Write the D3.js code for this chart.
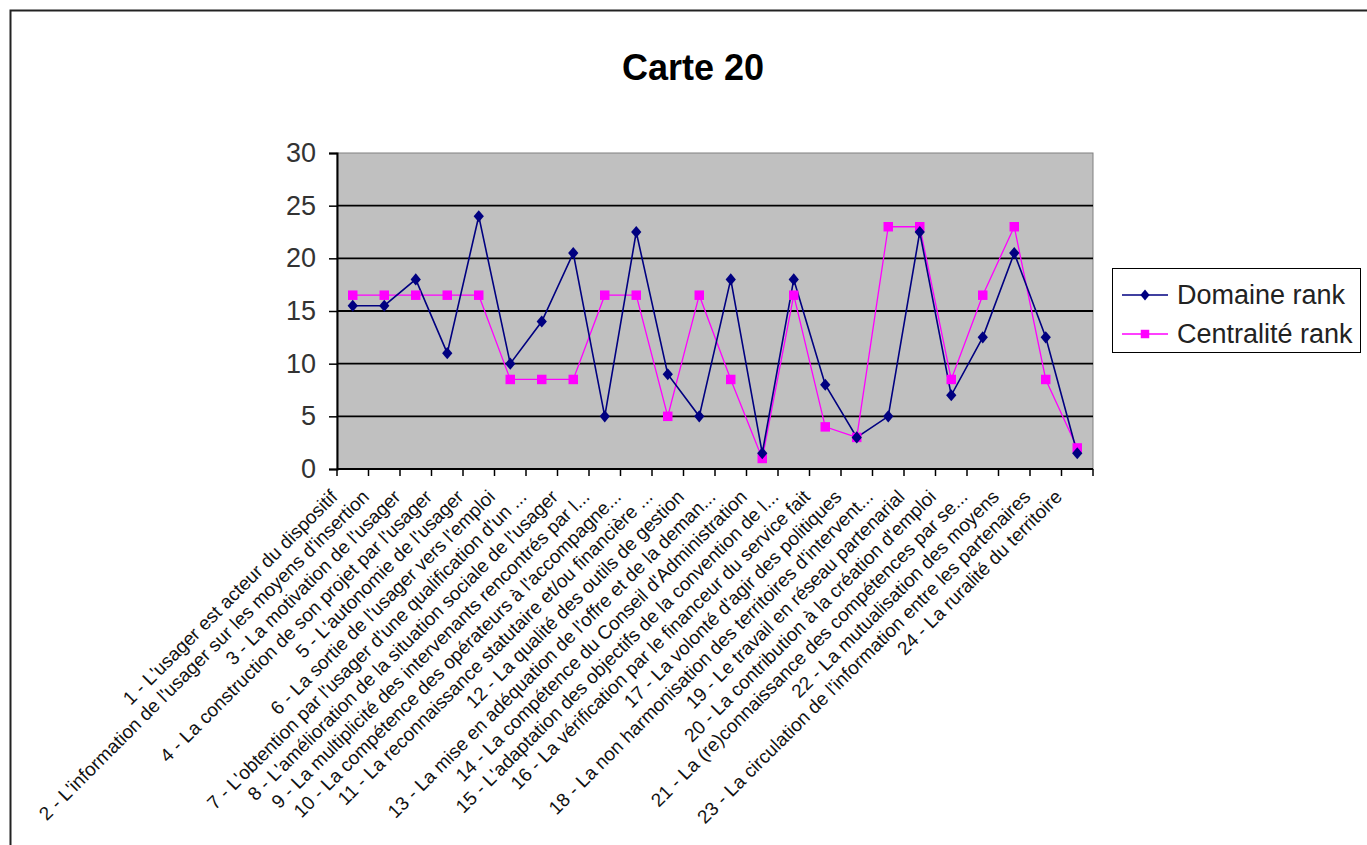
<!DOCTYPE html>
<html>
<head>
<meta charset="utf-8">
<script src="https://cdn.jsdelivr.net/npm/d3@7"></script>
<style>
  html, body { margin: 0; padding: 0; background: #ffffff; }
  svg { display: block; }
  text { font-family: "Liberation Sans", Arial, sans-serif; }
</style>
</head>
<body>
<svg id="chart" width="1367" height="845"></svg>
<script>
const title = "Carte 20";
const categories = [
  "1 - L'usager est acteur du dispositif",
  "2 - L'information de l'usager sur les moyens d'insertion",
  "3 - La motivation de l'usager",
  "4 - La construction de son projet par l'usager",
  "5 - L'autonomie de l'usager",
  "6 - La sortie de l'usager vers l'emploi",
  "7 - L'obtention par l'usager d'une qualification d'un ...",
  "8 - L'amélioration de la situation sociale de l'usager",
  "9 - La multiplicité des intervenants rencontrés par l...",
  "10 - La compétence des opérateurs à l'accompagne...",
  "11 - La reconnaissance statutaire et/ou financière ...",
  "12 - La qualité des outils de gestion",
  "13 - La mise en adéquation de l'offre et de la deman...",
  "14 - La compétence du Conseil d'Administration",
  "15 - L'adaptation des objectifs de la convention de l...",
  "16 - La vérification par le financeur du service fait",
  "17 - La volonté d'agir des politiques",
  "18 - La non harmonisation des territoires d'intervent...",
  "19 - Le travail en réseau partenarial",
  "20 - La contribution à la création d'emploi",
  "21 - La (re)connaissance des compétences par se...",
  "22 - La mutualisation des moyens",
  "23 - La circulation de l'information entre les partenaires",
  "24 - La ruralité du territoire"
];
const seriesNames = ["Domaine rank", "Centralité rank"];
const domaineRank = [15.5, 15.5, 18, 11, 24, 10, 14, 20.5, 5, 22.5, 9, 5, 18, 1.5, 18, 8, 3, 5, 22.5, 7, 12.5, 20.5, 12.5, 1.5];
const centraliteRank = [16.5, 16.5, 16.5, 16.5, 16.5, 8.5, 8.5, 8.5, 16.5, 16.5, 5, 16.5, 8.5, 1, 16.5, 4, 3, 23, 23, 8.5, 16.5, 23, 8.5, 2];
const yTicks = [0, 5, 10, 15, 20, 25, 30];

const svg = d3.select("#chart");

// outer chart frame
svg.append("rect")
  .attr("x", 10.5).attr("y", 10.5)
  .attr("width", 1400).attr("height", 900)
  .attr("fill", "#ffffff").attr("stroke", "#222").attr("stroke-width", 2);

// title
svg.append("text")
  .attr("x", 693).attr("y", 80)
  .attr("text-anchor", "middle")
  .attr("font-size", 36).attr("font-weight", "bold")
  .text(title);

const plot = { left: 337, right: 1093, top: 153, bottom: 469 };

const x = d3.scaleBand()
  .domain(categories)
  .range([plot.left, plot.right])
  .paddingInner(0).paddingOuter(0);

const y = d3.scaleLinear()
  .domain([0, 30])
  .range([plot.bottom, plot.top]);

const cx = d => x(d) + x.bandwidth() / 2;

// plot area
svg.append("rect")
  .attr("x", plot.left).attr("y", plot.top)
  .attr("width", plot.right - plot.left).attr("height", plot.bottom - plot.top)
  .attr("fill", "#c0c0c0").attr("stroke", "#808080").attr("stroke-width", 1);

// gridlines
svg.append("g")
  .selectAll("line")
  .data(yTicks.filter(t => t > 0 && t < 30))
  .join("line")
  .attr("x1", plot.left).attr("x2", plot.right)
  .attr("y1", d => y(d)).attr("y2", d => y(d))
  .attr("stroke", "#000").attr("stroke-width", 1.8);

// y axis
const yAxis = d3.axisLeft(y).tickValues(yTicks).tickSize(8).tickPadding(13);
const gy = svg.append("g")
  .attr("transform", `translate(${plot.left},0)`)
  .call(yAxis);
gy.select(".domain").attr("stroke", "#000").attr("stroke-width", 2);
gy.selectAll(".tick line").attr("stroke", "#000").attr("stroke-width", 1.5);
gy.selectAll(".tick text")
  .attr("font-size", 27)
  .attr("fill", "#333")
  .attr("font-family", "'Liberation Sans', Arial, sans-serif");

// x axis line
svg.append("line")
  .attr("x1", plot.left).attr("x2", plot.right)
  .attr("y1", plot.bottom).attr("y2", plot.bottom)
  .attr("stroke", "#000").attr("stroke-width", 2);

// x ticks at category boundaries
const boundaries = categories.map(c => x(c)).concat([x.range()[1]]);
svg.append("g")
  .selectAll("line")
  .data(boundaries)
  .join("line")
  .attr("x1", d => d).attr("x2", d => d)
  .attr("y1", plot.bottom).attr("y2", plot.bottom + 7)
  .attr("stroke", "#000").attr("stroke-width", 1.5);

// x labels rotated
svg.append("g")
  .selectAll("text")
  .data(categories)
  .join("text")
  .attr("transform", d => `translate(${cx(d) - 14},${plot.bottom + 29}) rotate(-45)`)
  .attr("text-anchor", "end")
  .attr("font-size", 19)
  .attr("fill", "#111")
  .text(d => d);

// marker types
const diamondType = {
  draw(ctx, size) {
    const h = Math.sqrt(size) * 0.62, w = h * 0.85;
    ctx.moveTo(0, -h); ctx.lineTo(w, 0); ctx.lineTo(0, h); ctx.lineTo(-w, 0); ctx.closePath();
  }
};

const series = [
  { name: seriesNames[0], values: domaineRank, color: "#000080", width: 1.6, symbol: diamondType, size: 95 },
  { name: seriesNames[1], values: centraliteRank, color: "#ff00ff", width: 1.3, symbol: d3.symbolSquare, size: 90 }
];

const line = d3.line()
  .x((d, i) => cx(categories[i]))
  .y(d => y(d));

[series[1], series[0]].forEach(s => {
  svg.append("path")
    .datum(s.values)
    .attr("fill", "none")
    .attr("stroke", s.color)
    .attr("stroke-width", s.width)
    .attr("d", line);
});
[series[1], series[0]].forEach(s => {
  svg.append("g")
    .selectAll("path")
    .data(s.values)
    .join("path")
    .attr("transform", (d, i) => `translate(${cx(categories[i])},${y(d)})`)
    .attr("d", d3.symbol().type(s.symbol).size(s.size))
    .attr("fill", s.color);
});

// legend
const legend = svg.append("g").attr("transform", "translate(1112,268)");
legend.append("rect")
  .attr("x", 0.5).attr("y", 0.5)
  .attr("width", 248).attr("height", 84)
  .attr("fill", "#fff").attr("stroke", "#000").attr("stroke-width", 1);
series.forEach((s, i) => {
  const ly = 27 + i * 39;
  legend.append("line")
    .attr("x1", 10).attr("x2", 56)
    .attr("y1", ly).attr("y2", ly)
    .attr("stroke", s.color).attr("stroke-width", 1.5);
  legend.append("path")
    .attr("transform", `translate(33,${ly})`)
    .attr("d", d3.symbol().type(s.symbol).size(s.size * 0.8))
    .attr("fill", s.color);
  legend.append("text")
    .attr("x", 65).attr("y", ly + 9)
    .attr("font-size", 27)
    .attr("fill", "#222")
    .text(s.name);
});
</script>
</body>
</html>
